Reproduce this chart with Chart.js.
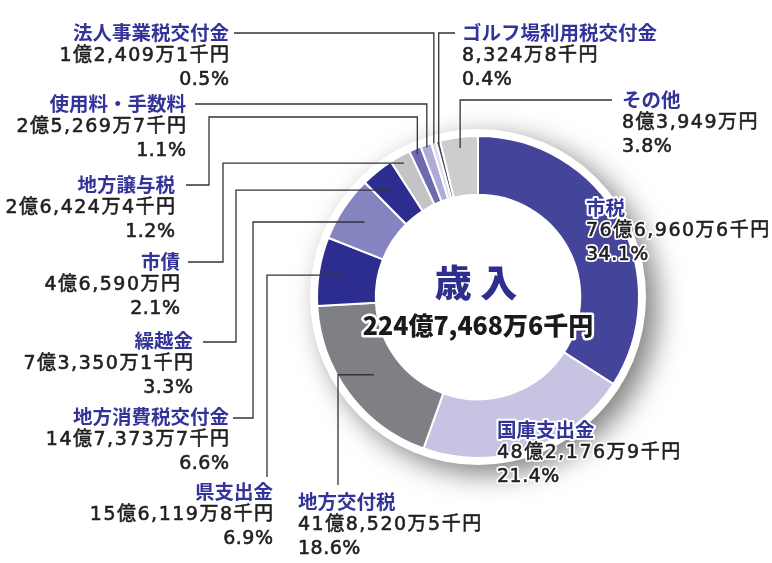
<!DOCTYPE html>
<html>
<head>
<meta charset="utf-8">
<script src="https://cdn.jsdelivr.net/npm/chart.js@4/dist/chart.umd.min.js"></script>
<style>
  html, body { margin: 0; padding: 0; background: #fff; }
  #wrap { width: 772px; height: 563px; }
</style>
</head>
<body>
<div id="wrap"><canvas id="myChart" width="772" height="563"></canvas></div>
<script>
// data
var names = ['市税', '国庫支出金', '地方交付税', '県支出金', '地方消費税交付金', '繰越金',
  '市債', '地方譲与税', '使用料・手数料', '法人事業税交付金', 'ゴルフ場利用税交付金', 'その他'];
var amounts = ['76億6,960万6千円', '48億2,176万9千円', '41億8,520万5千円', '15億6,119万8千円',
  '14億7,373万7千円', '7億3,350万1千円', '4億6,590万円', '2億6,424万4千円',
  '2億5,269万7千円', '1億2,409万1千円', '8,324万8千円', '8億3,949万円'];
var shares = [34.1, 21.4, 18.6, 6.9, 6.6, 3.3, 2.1, 1.2, 1.1, 0.5, 0.4, 3.8];
var totalTitle = '歳 入';
var totalText = '224億7,468万6千円';

var colors = ['#45449b', '#c6c4e2', '#7f8084', '#2d2d8f', '#8583c0', '#2d2d8f',
  '#c4c4c6', '#6d6ab0', '#aeabd6', '#dcdbee', '#4a4a4e', '#cdcdcf'];

// label layout: text position, alignment, leader line route
// route points: 'A' stands for the anchor coordinate on the slice
var labelPos = [
  {x: 586, y: 208, align: 'left'},
  {x: 497, y: 430, align: 'left'},
  {x: 298, y: 502, align: 'left', r: 130, route: [[338, 485], [338, 'A']]},
  {x: 273, y: 492, align: 'right', r: 137, route: [[267, 477], [267, 'A']]},
  {x: 229, y: 417, align: 'right', r: 136, route: [[233, 418], [253, 418], [253, 'A']]},
  {x: 193, y: 341, align: 'right', r: 137, route: [[203, 342], [236, 342], [236, 'A']]},
  {x: 180, y: 262, align: 'right', r: 153, route: [[188, 262], [223, 262], [223, 'A']]},
  {x: 175, y: 185, align: 'right', r: 155, route: [[186, 185], [209, 185], [209, 117], ['A', 117]]},
  {x: 186, y: 104, align: 'right', r: 158, route: [[195, 104], ['A', 104]]},
  {x: 229, y: 33, align: 'right', r: 160, route: [[234, 33], ['A', 33]]},
  {x: 462, y: 33, align: 'left', r: 158, route: [[455, 33], ['A', 33]]},
  {x: 622, y: 100, align: 'left', r: 150, route: [[612, 100], ['A', 100]]}
];

var FONT = '"Noto Sans CJK JP", "Noto Sans", sans-serif';
var NUMFONT = '"DejaVu Sans", "Noto Sans CJK JP", sans-serif';

var ringShadow = {
  id: 'ringShadow',
  beforeDatasetsDraw: function (chart) {
    var arc = chart.getDatasetMeta(0).data[0];
    if (!arc) return;
    var ctx = chart.ctx;
    ctx.save();
    ctx.shadowColor = 'rgba(0,0,0,0.5)';
    ctx.shadowBlur = 28;
    ctx.shadowOffsetX = 11;
    ctx.shadowOffsetY = 9;
    ctx.fillStyle = '#fff';
    ctx.beginPath();
    ctx.arc(arc.x, arc.y, arc.outerRadius + 7, 0, Math.PI * 2);
    ctx.fill();
    ctx.restore();
  }
};

function outlinedText(ctx, txt, x, y, fill, strokeW, bolden) {
  ctx.lineJoin = 'round';
  ctx.strokeStyle = '#fff';
  ctx.lineWidth = strokeW;
  ctx.strokeText(txt, x, y);
  ctx.fillStyle = fill;
  ctx.fillText(txt, x, y);
  if (bolden) {
    ctx.strokeStyle = fill;
    ctx.lineWidth = bolden;
    ctx.strokeText(txt, x, y);
  }
}

var sliceLabels = {
  id: 'sliceLabels',
  afterDatasetsDraw: function (chart) {
    var ctx = chart.ctx;
    var arcs = chart.getDatasetMeta(0).data;
    ctx.save();
    // leader lines
    ctx.strokeStyle = '#333';
    ctx.lineWidth = 1.3;
    labelPos.forEach(function (p, i) {
      if (!p.route) return;
      var a = arcs[i];
      var mid = (a.startAngle + a.endAngle) / 2;
      var ax = a.x + p.r * Math.cos(mid);
      var ay = a.y + p.r * Math.sin(mid);
      ctx.beginPath();
      p.route.forEach(function (pt, k) {
        var px = pt[0] === 'A' ? ax : pt[0];
        var py = pt[1] === 'A' ? ay : pt[1];
        if (k === 0) ctx.moveTo(px, py); else ctx.lineTo(px, py);
      });
      ctx.lineTo(ax, ay);
      ctx.stroke();
    });
    // texts
    ctx.textBaseline = 'middle';
    labelPos.forEach(function (p, i) {
      ctx.textAlign = p.align;
      var shift = p.align === 'right' ? 1.5 : 0;
      ctx.letterSpacing = '0px';
      ctx.font = 'bold 19.5px ' + FONT;
      outlinedText(ctx, names[i], p.x, p.y, '#33349a', 4);
      ctx.font = '19px ' + NUMFONT;
      ctx.letterSpacing = '1.5px';
      outlinedText(ctx, amounts[i], p.x + shift, p.y + 23.5, '#231f20', 4, 0.6);
      ctx.letterSpacing = '0.5px';
      outlinedText(ctx, shares[i].toFixed(1) + '%', p.x + shift / 3, p.y + 47, '#231f20', 4, 0.6);
    });
    ctx.letterSpacing = '0px';
    // centre
    var c = arcs[0];
    ctx.textAlign = 'center';
    ctx.font = '900 37px ' + FONT;
    ctx.fillStyle = '#2e2e8f';
    ctx.fillText(totalTitle, c.x - 2, c.y - 14);
    ctx.font = '900 25px ' + FONT;
    outlinedText(ctx, totalText, c.x, c.y + 28, '#1a1a1a', 5);
    ctx.restore();
  }
};

var ctx = document.getElementById('myChart').getContext('2d');
var chart = new Chart(ctx, {
  type: 'doughnut',
  data: {
    labels: names,
    datasets: [{
      data: shares,
      backgroundColor: colors,
      borderColor: '#fff',
      borderWidth: 2
    }]
  },
  options: {
    responsive: false,
    animation: false,
    cutout: '63.5%',
    layout: { padding: { left: 316, right: 132, top: 135, bottom: 104 } },
    plugins: {
      legend: { display: false },
      tooltip: { enabled: false }
    }
  },
  plugins: [ringShadow, sliceLabels]
});
</script>
</body>
</html>
